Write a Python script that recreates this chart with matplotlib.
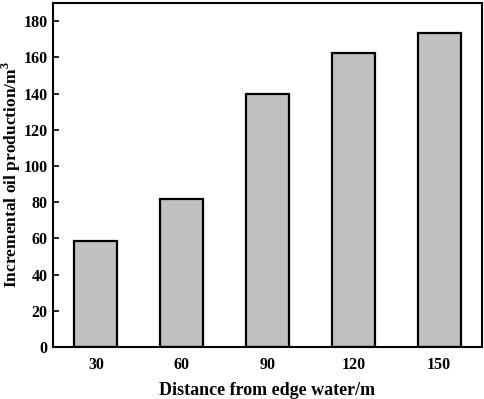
import numpy as np
import matplotlib
matplotlib.use("Agg")
import matplotlib.pyplot as plt

distances = ["30", "60", "90", "120", "150"]
oil_increase = [58.5, 81.5, 140, 162.3, 173.2]

plt.rcParams["font.family"] = "Liberation Serif"
plt.rcParams["font.weight"] = "bold"
plt.rcParams["mathtext.fontset"] = "custom"
plt.rcParams["mathtext.bf"] = "Liberation Serif:bold"
plt.rcParams["mathtext.rm"] = "Liberation Serif:bold"

fig = plt.figure(figsize=[4.84, 3.99], dpi=100)
ax = fig.add_axes([0.1095, 0.1303, 0.8865, 0.8622])

x = np.arange(len(distances))
ax.bar(x, oil_increase, width=0.5, facecolor="#c0c0c0", edgecolor="k", linewidth=1.6)

ax.set_xlim([-0.5, 4.5])
ax.set_ylim([0, 190])
ax.set_xticks(x)
ax.set_xticklabels(distances, fontsize=11.5, fontweight="bold")
ax.set_yticks(np.arange(0, 181, 20))
ax.tick_params(axis="y", labelsize=11.5, width=1.2, length=4, direction="in", pad=4)
ax.tick_params(axis="x", length=0, pad=7)
for lbl in ax.get_yticklabels():
    lbl.set_fontweight("bold")
for s in ax.spines.values():
    s.set_linewidth(1.5)

ax.set_xlabel("Distance from edge water/m", fontsize=13, fontweight="bold", labelpad=7)
ax.set_ylabel(r"Incremental oil production/m$^{3}$", fontsize=12.5, fontweight="bold")
ax.yaxis.set_label_coords(-0.07, 0.5)

plt.savefig("out.png", dpi=100)
plt.close()
